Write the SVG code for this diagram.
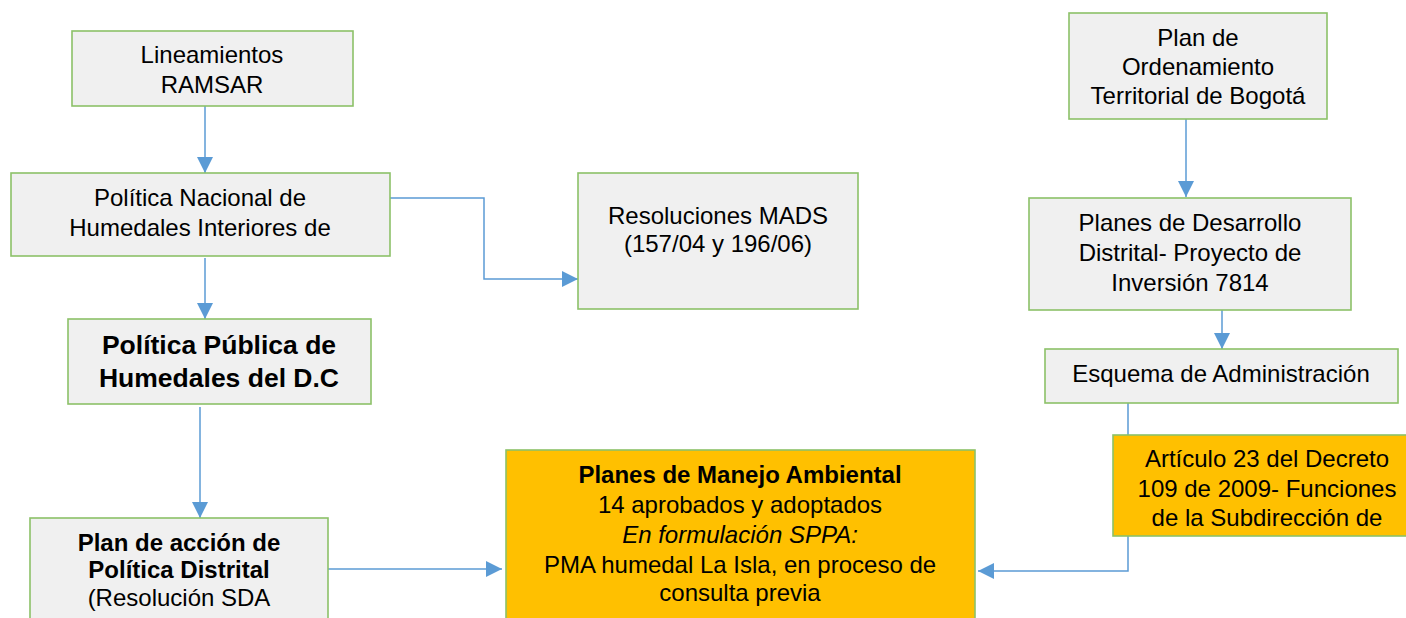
<svg xmlns="http://www.w3.org/2000/svg" width="1406" height="618" viewBox="0 0 1406 618">
<style>
.box{fill:#F0F0F0;stroke:#8CC168;stroke-width:1.6}
.obox{fill:#FFC000;stroke:#8CC168;stroke-width:1.6}
.t{font-family:"Liberation Sans",Arial,sans-serif;font-size:24px;fill:#000;text-anchor:middle}
.b{font-weight:bold}
.i{font-style:italic}
.c{fill:none;stroke:#5B9BD5;stroke-width:1.5}
</style>
<defs>
<marker id="ah" viewBox="0 0 16 16" markerWidth="16" markerHeight="16" markerUnits="userSpaceOnUse" refX="16" refY="8" orient="auto">
<path d="M0,0 L16,8 L0,16 z" fill="#5B9BD5"/>
</marker>
</defs>
<rect width="1406" height="618" fill="#fff"/>
<g id="connectors">
<path class="c" d="M205,106 V173" marker-end="url(#ah)"/>
<path class="c" d="M205,258 V319" marker-end="url(#ah)"/>
<path class="c" d="M200,407 V518" marker-end="url(#ah)"/>
<path class="c" d="M328,569 H502" marker-end="url(#ah)"/>
<path class="c" d="M390,198 H484 V279 H578" marker-end="url(#ah)"/>
<path class="c" d="M1186,119 V197" marker-end="url(#ah)"/>
<path class="c" d="M1222,306 V349" stroke="#9DC3E6" marker-end="url(#ah)"/>
<path class="c" d="M1128,403 V571 H978" marker-end="url(#ah)"/>
</g>
<g id="n-ramsar">
<rect class="box" x="72" y="31" width="281" height="75"/>
<text class="t" x="212" y="63">Lineamientos</text>
<text class="t" x="212" y="93">RAMSAR</text>
</g>
<g id="n-pnhi">
<rect class="box" x="11" y="173" width="379" height="83"/>
<text class="t" x="200" y="206">Política Nacional de</text>
<text class="t" x="200" y="236">Humedales Interiores de</text>
</g>
<g id="n-ppdc">
<rect class="box" x="68" y="319" width="303" height="85"/>
<text class="t b" x="219" y="354" style="font-size:26.5px">Política Pública de</text>
<text class="t b" x="219" y="387" style="font-size:26.5px">Humedales del D.C</text>
</g>
<g id="n-plan">
<rect class="box" x="30" y="518" width="298" height="110"/>
<text class="t b" x="179" y="551">Plan de acción de</text>
<text class="t b" x="179" y="578">Política Distrital</text>
<text class="t" x="179" y="606">(Resolución SDA</text>
</g>
<g id="n-mads">
<rect class="box" x="578" y="173" width="280" height="136"/>
<text class="t" x="718" y="224">Resoluciones MADS</text>
<text class="t" x="718" y="252">(157/04 y 196/06)</text>
</g>
<g id="n-pma">
<rect class="obox" x="506" y="450" width="469" height="180"/>
<text class="t b" x="740" y="483">Planes de Manejo Ambiental</text>
<text class="t" x="740" y="513">14 aprobados y adoptados</text>
<text class="t i" x="740" y="543">En formulación SPPA:</text>
<text class="t" x="740" y="573">PMA humedal La Isla, en proceso de</text>
<text class="t" x="740" y="601">consulta previa</text>
</g>
<g id="n-pot">
<rect class="box" x="1069" y="13" width="258" height="106"/>
<text class="t" x="1198" y="46">Plan de</text>
<text class="t" x="1198" y="75">Ordenamiento</text>
<text class="t" x="1198" y="104">Territorial de Bogotá</text>
</g>
<g id="n-pdd">
<rect class="box" x="1029" y="198" width="322" height="112"/>
<text class="t" x="1190" y="231">Planes de Desarrollo</text>
<text class="t" x="1190" y="261">Distrital- Proyecto de</text>
<text class="t" x="1190" y="291">Inversión 7814</text>
</g>
<g id="n-esquema">
<rect class="box" x="1045" y="349" width="353" height="54"/>
<text class="t" x="1221" y="382">Esquema de Administración</text>
</g>
<g id="n-articulo">
<rect class="obox" x="1113" y="435" width="309" height="101"/>
<text class="t" x="1267" y="467">Artículo 23 del Decreto</text>
<text class="t" x="1267" y="497">109 de 2009- Funciones</text>
<text class="t" x="1267" y="526">de la Subdirección de</text>
</g>
</svg>
